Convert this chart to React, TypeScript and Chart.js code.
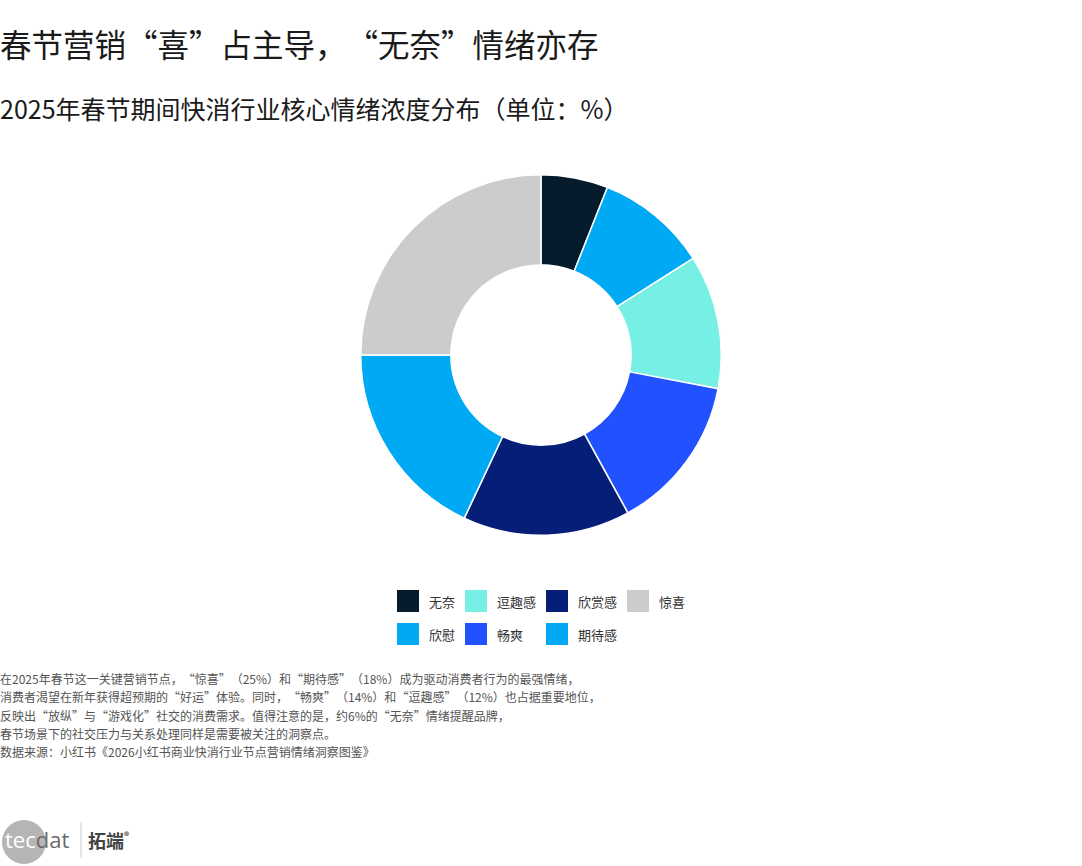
import React, { useEffect, useRef } from 'react';
import { Chart, registerables } from 'chart.js';

Chart.register(...registerables);

const titleText = '春节营销“喜”占主导，“无奈”情绪亦存';
const subtitleText = '2025年春节期间快消行业核心情绪浓度分布（单位：%）';

const categories = ['无奈', '欣慰', '逗趣感', '畅爽', '欣赏感', '期待感', '惊喜'];
const values = [6, 10, 12, 14, 15, 18, 25];
const colors = ['#061C2C', '#00A9F4', '#76EFE5', '#2251FF', '#051F78', '#00A9F4', '#CCCCCC'];

const notes = [
  '在2025年春节这一关键营销节点，“惊喜”（25%）和“期待感”（18%）成为驱动消费者行为的最强情绪，',
  '消费者渴望在新年获得超预期的“好运”体验。同时，“畅爽”（14%）和“逗趣感”（12%）也占据重要地位，',
  '反映出“放纵”与“游戏化”社交的消费需求。值得注意的是，约6%的“无奈”情绪提醒品牌，',
  '春节场景下的社交压力与关系处理同样是需要被关注的洞察点。',
  '数据来源：小红书《2026小红书商业快消行业节点营销情绪洞察图鉴》',
];

const FONT = "'Noto Sans CJK SC', 'Liberation Serif', serif";

export default function App() {
  const canvasRef = useRef<HTMLCanvasElement | null>(null);

  useEffect(() => {
    document.body.style.margin = '0';
    const canvas = canvasRef.current;
    if (!canvas) return;
    const chart = new Chart(canvas, {
      type: 'doughnut',
      data: {
        labels: categories,
        datasets: [
          {
            data: values,
            backgroundColor: colors,
            borderColor: '#ffffff',
            borderWidth: 1.5,
            hoverOffset: 0,
          },
        ],
      },
      options: {
        animation: false,
        responsive: false,
        maintainAspectRatio: false,
        cutout: '50%',
        layout: { padding: 0 },
        plugins: {
          legend: { display: false },
          tooltip: { enabled: false },
          title: { display: false },
        },
      },
    });
    return () => {
      chart.destroy();
    };
  }, []);

  const legendItems = categories.map((c, i) => ({ label: c, color: colors[i] }));

  const trim: any = { textSpacingTrim: 'space-all' };

  return (
    <div
      style={{
        position: 'relative',
        width: 1082,
        height: 866,
        background: '#ffffff',
        overflow: 'hidden',
        fontFamily: FONT,
        ...trim,
      }}
    >
      <div
        style={{
          position: 'absolute',
          left: 0,
          top: 27,
          fontSize: 31.5,
          lineHeight: '32px',
          color: '#1a1a1a',
          whiteSpace: 'nowrap',
        }}
      >
        {titleText}
      </div>
      <div
        style={{
          position: 'absolute',
          left: 0,
          top: 96,
          fontSize: 25,
          lineHeight: '25px',
          color: '#1a1a1a',
          whiteSpace: 'nowrap',
        }}
      >
        {subtitleText}
      </div>

      <canvas
        ref={canvasRef}
        width={1082}
        height={362}
        style={{ position: 'absolute', left: 0, top: 174, width: 1082, height: 362 }}
      />

      <div
        style={{
          position: 'absolute',
          left: 0,
          top: 590,
          width: 1082,
          display: 'flex',
          justifyContent: 'center',
        }}
      >
        <div
          style={{
            display: 'grid',
            gridTemplateRows: '22px 22px',
            gridAutoFlow: 'column',
            columnGap: 10,
            rowGap: 11,
          }}
        >
          {legendItems.map((it) => (
            <div key={it.label} style={{ display: 'flex', alignItems: 'center' }}>
              <span
                style={{
                  display: 'inline-block',
                  width: 22,
                  height: 22,
                  background: it.color,
                  marginRight: 10,
                }}
              />
              <span
                style={{
                  fontSize: 13,
                  color: '#333',
                  whiteSpace: 'nowrap',
                }}
              >
                {it.label}
              </span>
            </div>
          ))}
        </div>
      </div>

      <div
        style={{
          position: 'absolute',
          left: 0,
          top: 670,
          fontSize: 12,
          lineHeight: '18.3px',
          color: '#555',
          whiteSpace: 'nowrap',
        }}
      >
        {notes.map((n, i) => (
          <div key={i}>{n}</div>
        ))}
      </div>

      <svg
        width={160}
        height={56}
        style={{ position: 'absolute', left: 0, top: 810 }}
      >
        <circle cx={24} cy={32} r={22} fill="#b5b5b5" />
        <text
          x={5}
          y={38}
          fontSize={22}
          fontFamily="'Open Sans', 'DejaVu Sans', sans-serif"
        >
          <tspan fill="#ffffff">tec</tspan>
          <tspan fill="#6a6a6a">dat</tspan>
        </text>
        <line x1={81} y1={12} x2={81} y2={48} stroke="#cccccc" strokeWidth={1} />
        <text
          x={88}
          y={38}
          fontSize={18}
          fontWeight={700}
          fill="#444"
          fontFamily="'Noto Sans CJK SC', sans-serif"
        >
          拓端
          <tspan fontSize={10} dy={-8}>®</tspan>
        </text>
      </svg>
    </div>
  );
}
